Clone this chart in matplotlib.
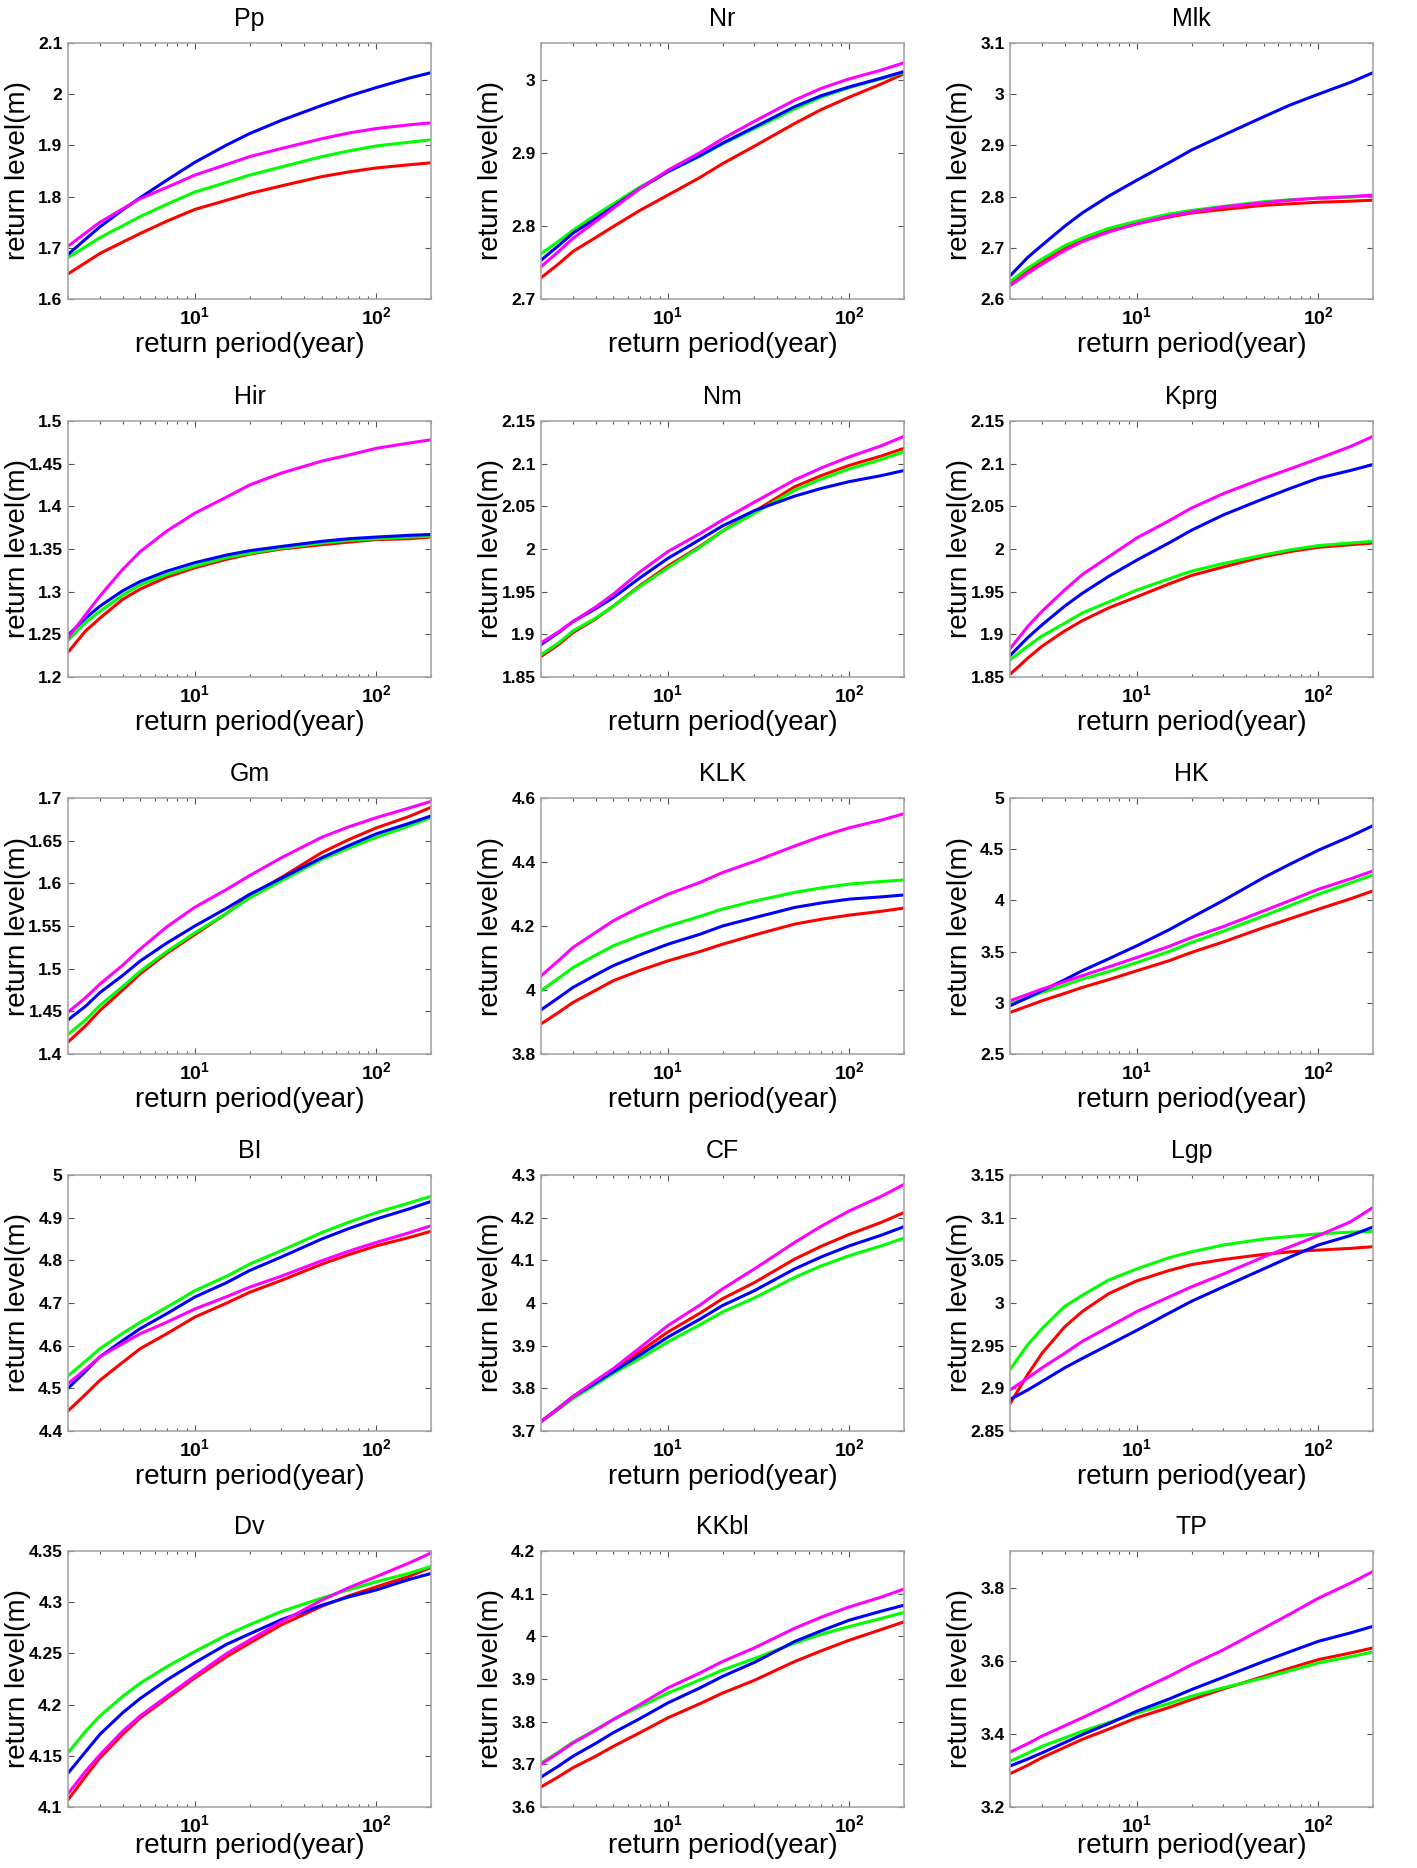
import numpy as np
import matplotlib
matplotlib.use("Agg")
import matplotlib.pyplot as plt
from matplotlib.ticker import FixedLocator, FixedFormatter, LogLocator, NullFormatter

plt.rcParams['font.family'] = ['Liberation Sans', 'DejaVu Sans']
plt.rcParams['mathtext.fontset'] = 'custom'
plt.rcParams['mathtext.rm'] = 'Liberation Sans'
plt.rcParams['mathtext.bf'] = 'Liberation Sans:bold'

# return periods (years)
T = [2, 2.5, 3, 4, 5, 7, 10, 15, 20, 30, 50, 70, 100, 150, 200]

stations = ["Pp", "Nr", "Mlk", "Hir", "Nm", "Kprg", "Gm", "KLK", "HK",
            "BI", "CF", "Lgp", "Dv", "KKbl", "TP"]

# return levels (m) per station
red = {
    "Pp":   [1.649, 1.671, 1.689, 1.711, 1.728, 1.752, 1.775, 1.793, 1.806, 1.821, 1.839, 1.848, 1.856, 1.862, 1.866],
    "Nr":   [2.729, 2.748, 2.765, 2.784, 2.799, 2.821, 2.842, 2.866, 2.885, 2.909, 2.940, 2.959, 2.976, 2.994, 3.008],
    "Mlk":  [2.629, 2.655, 2.673, 2.699, 2.714, 2.733, 2.747, 2.760, 2.768, 2.775, 2.783, 2.786, 2.789, 2.791, 2.793],
    "Hir":  [1.229, 1.254, 1.269, 1.291, 1.303, 1.317, 1.328, 1.338, 1.344, 1.350, 1.355, 1.358, 1.361, 1.362, 1.364],
    "Nm":   [1.874, 1.888, 1.902, 1.918, 1.933, 1.957, 1.980, 2.003, 2.021, 2.044, 2.073, 2.086, 2.098, 2.109, 2.118],
    "Kprg": [1.853, 1.872, 1.886, 1.904, 1.916, 1.931, 1.944, 1.959, 1.969, 1.979, 1.991, 1.997, 2.002, 2.005, 2.007],
    "Gm":   [1.414, 1.433, 1.451, 1.475, 1.494, 1.518, 1.540, 1.565, 1.585, 1.607, 1.636, 1.651, 1.665, 1.678, 1.689],
    "KLK":  [3.894, 3.930, 3.961, 3.999, 4.029, 4.061, 4.091, 4.120, 4.143, 4.172, 4.206, 4.221, 4.234, 4.246, 4.256],
    "HK":   [2.906, 2.968, 3.020, 3.092, 3.150, 3.226, 3.313, 3.410, 3.492, 3.595, 3.735, 3.822, 3.914, 4.015, 4.093],
    "BI":   [4.447, 4.486, 4.519, 4.561, 4.593, 4.628, 4.667, 4.700, 4.725, 4.753, 4.791, 4.813, 4.834, 4.853, 4.868],
    "CF":   [3.722, 3.754, 3.781, 3.816, 3.842, 3.886, 3.932, 3.976, 4.010, 4.048, 4.103, 4.133, 4.161, 4.189, 4.212],
    "Lgp":  [2.882, 2.916, 2.941, 2.972, 2.990, 3.011, 3.026, 3.038, 3.045, 3.051, 3.057, 3.060, 3.062, 3.064, 3.066],
    "Dv":   [4.107, 4.130, 4.148, 4.171, 4.187, 4.206, 4.226, 4.247, 4.260, 4.278, 4.296, 4.306, 4.315, 4.325, 4.334],
    "KKbl": [3.647, 3.671, 3.692, 3.719, 3.742, 3.774, 3.809, 3.842, 3.867, 3.897, 3.941, 3.966, 3.991, 4.016, 4.034],
    "TP":   [3.291, 3.314, 3.335, 3.363, 3.385, 3.413, 3.444, 3.472, 3.494, 3.523, 3.557, 3.580, 3.603, 3.621, 3.635],
}
green = {
    "Pp":   [1.681, 1.702, 1.720, 1.743, 1.761, 1.785, 1.809, 1.828, 1.842, 1.858, 1.878, 1.889, 1.899, 1.906, 1.911],
    "Nr":   [2.762, 2.779, 2.794, 2.815, 2.830, 2.853, 2.874, 2.895, 2.912, 2.933, 2.960, 2.976, 2.989, 3.001, 3.010],
    "Mlk":  [2.634, 2.660, 2.678, 2.704, 2.719, 2.738, 2.752, 2.766, 2.773, 2.781, 2.790, 2.794, 2.797, 2.799, 2.801],
    "Hir":  [1.243, 1.264, 1.277, 1.296, 1.308, 1.320, 1.330, 1.340, 1.345, 1.351, 1.357, 1.360, 1.362, 1.364, 1.365],
    "Nm":   [1.876, 1.890, 1.904, 1.919, 1.933, 1.956, 1.978, 2.002, 2.021, 2.042, 2.069, 2.082, 2.094, 2.105, 2.114],
    "Kprg": [1.870, 1.886, 1.898, 1.913, 1.925, 1.938, 1.952, 1.965, 1.974, 1.983, 1.993, 1.999, 2.004, 2.007, 2.009],
    "Gm":   [1.423, 1.440, 1.457, 1.479, 1.497, 1.520, 1.542, 1.565, 1.583, 1.603, 1.628, 1.641, 1.654, 1.667, 1.677],
    "KLK":  [3.998, 4.037, 4.070, 4.109, 4.138, 4.170, 4.200, 4.230, 4.253, 4.278, 4.305, 4.319, 4.331, 4.339, 4.344],
    "HK":   [2.988, 3.049, 3.101, 3.172, 3.231, 3.305, 3.394, 3.500, 3.589, 3.700, 3.849, 3.950, 4.060, 4.170, 4.249],
    "BI":   [4.529, 4.564, 4.593, 4.629, 4.655, 4.690, 4.729, 4.763, 4.791, 4.823, 4.865, 4.889, 4.912, 4.934, 4.950],
    "CF":   [3.722, 3.751, 3.776, 3.809, 3.835, 3.870, 3.909, 3.949, 3.979, 4.012, 4.060, 4.087, 4.111, 4.134, 4.152],
    "Lgp":  [2.922, 2.951, 2.970, 2.996, 3.009, 3.027, 3.040, 3.053, 3.060, 3.068, 3.075, 3.078, 3.081, 3.083, 3.084],
    "Dv":   [4.153, 4.174, 4.189, 4.208, 4.221, 4.237, 4.252, 4.268, 4.278, 4.291, 4.304, 4.312, 4.320, 4.328, 4.335],
    "KKbl": [3.703, 3.729, 3.752, 3.781, 3.805, 3.835, 3.867, 3.898, 3.921, 3.948, 3.984, 4.005, 4.023, 4.042, 4.056],
    "TP":   [3.325, 3.347, 3.366, 3.389, 3.407, 3.431, 3.457, 3.483, 3.503, 3.526, 3.553, 3.573, 3.594, 3.611, 3.624],
}
blue = {
    "Pp":   [1.687, 1.717, 1.741, 1.774, 1.798, 1.832, 1.867, 1.901, 1.923, 1.949, 1.978, 1.996, 2.013, 2.031, 2.042],
    "Nr":   [2.753, 2.773, 2.790, 2.810, 2.826, 2.851, 2.874, 2.896, 2.913, 2.935, 2.963, 2.978, 2.990, 3.002, 3.011],
    "Mlk":  [2.645, 2.681, 2.705, 2.742, 2.768, 2.801, 2.832, 2.866, 2.891, 2.920, 2.956, 2.979, 3.000, 3.023, 3.042],
    "Hir":  [1.249, 1.269, 1.283, 1.301, 1.312, 1.324, 1.334, 1.343, 1.348, 1.353, 1.359, 1.362, 1.364, 1.366, 1.367],
    "Nm":   [1.888, 1.902, 1.915, 1.930, 1.943, 1.966, 1.989, 2.011, 2.027, 2.045, 2.062, 2.071, 2.079, 2.086, 2.092],
    "Kprg": [1.875, 1.896, 1.911, 1.933, 1.948, 1.968, 1.987, 2.007, 2.022, 2.040, 2.059, 2.071, 2.083, 2.092, 2.099],
    "Gm":   [1.440, 1.456, 1.472, 1.492, 1.509, 1.530, 1.550, 1.571, 1.587, 1.606, 1.630, 1.644, 1.658, 1.670, 1.679],
    "KLK":  [3.938, 3.976, 4.008, 4.047, 4.076, 4.110, 4.143, 4.174, 4.200, 4.226, 4.258, 4.272, 4.284, 4.291, 4.297],
    "HK":   [2.971, 3.050, 3.118, 3.225, 3.313, 3.430, 3.557, 3.712, 3.833, 4.000, 4.223, 4.355, 4.490, 4.625, 4.730],
    "BI":   [4.500, 4.540, 4.574, 4.612, 4.640, 4.675, 4.714, 4.748, 4.776, 4.808, 4.850, 4.874, 4.897, 4.920, 4.938],
    "CF":   [3.722, 3.753, 3.780, 3.813, 3.839, 3.878, 3.920, 3.962, 3.994, 4.029, 4.080, 4.108, 4.134, 4.159, 4.179],
    "Lgp":  [2.887, 2.898, 2.908, 2.924, 2.935, 2.951, 2.968, 2.988, 3.002, 3.019, 3.040, 3.054, 3.068, 3.079, 3.089],
    "Dv":   [4.133, 4.154, 4.171, 4.192, 4.206, 4.224, 4.241, 4.259, 4.269, 4.283, 4.297, 4.305, 4.312, 4.322, 4.328],
    "KKbl": [3.670, 3.696, 3.719, 3.749, 3.774, 3.807, 3.844, 3.879, 3.906, 3.939, 3.988, 4.013, 4.038, 4.059, 4.073],
    "TP":   [3.312, 3.331, 3.348, 3.376, 3.398, 3.428, 3.462, 3.495, 3.521, 3.555, 3.598, 3.625, 3.653, 3.676, 3.694],
}
magenta = {
    "Pp":   [1.703, 1.729, 1.750, 1.776, 1.796, 1.818, 1.842, 1.863, 1.878, 1.894, 1.913, 1.924, 1.933, 1.940, 1.944],
    "Nr":   [2.744, 2.765, 2.783, 2.806, 2.824, 2.851, 2.876, 2.900, 2.919, 2.943, 2.972, 2.988, 3.001, 3.013, 3.023],
    "Mlk":  [2.626, 2.650, 2.668, 2.695, 2.712, 2.731, 2.747, 2.762, 2.770, 2.780, 2.788, 2.793, 2.797, 2.800, 2.803],
    "Hir":  [1.246, 1.273, 1.295, 1.326, 1.347, 1.371, 1.392, 1.411, 1.425, 1.439, 1.453, 1.460, 1.468, 1.474, 1.478],
    "Nm":   [1.890, 1.903, 1.915, 1.932, 1.947, 1.973, 1.997, 2.018, 2.034, 2.055, 2.081, 2.095, 2.108, 2.121, 2.132],
    "Kprg": [1.883, 1.909, 1.927, 1.952, 1.970, 1.991, 2.013, 2.033, 2.048, 2.065, 2.083, 2.094, 2.106, 2.120, 2.132],
    "Gm":   [1.449, 1.466, 1.482, 1.504, 1.523, 1.549, 1.572, 1.593, 1.609, 1.630, 1.654, 1.666, 1.677, 1.688, 1.696],
    "KLK":  [4.044, 4.092, 4.133, 4.180, 4.216, 4.259, 4.299, 4.336, 4.367, 4.402, 4.450, 4.480, 4.507, 4.531, 4.551],
    "HK":   [3.020, 3.082, 3.134, 3.206, 3.264, 3.350, 3.443, 3.550, 3.638, 3.745, 3.898, 4.000, 4.109, 4.210, 4.288],
    "BI":   [4.511, 4.545, 4.574, 4.605, 4.628, 4.655, 4.686, 4.715, 4.737, 4.763, 4.799, 4.821, 4.842, 4.864, 4.881],
    "CF":   [3.722, 3.753, 3.780, 3.818, 3.846, 3.895, 3.947, 3.995, 4.033, 4.080, 4.142, 4.180, 4.216, 4.250, 4.278],
    "Lgp":  [2.898, 2.912, 2.924, 2.941, 2.955, 2.972, 2.990, 3.007, 3.019, 3.034, 3.054, 3.066, 3.079, 3.095, 3.112],
    "Dv":   [4.113, 4.135, 4.151, 4.174, 4.189, 4.208, 4.228, 4.250, 4.263, 4.281, 4.302, 4.314, 4.325, 4.338, 4.348],
    "KKbl": [3.700, 3.727, 3.750, 3.780, 3.805, 3.840, 3.879, 3.914, 3.941, 3.973, 4.019, 4.045, 4.069, 4.092, 4.111],
    "TP":   [3.350, 3.373, 3.394, 3.422, 3.444, 3.478, 3.516, 3.557, 3.589, 3.630, 3.689, 3.728, 3.771, 3.812, 3.844],
}

# y-axis limits and tick labels per station
ylims = {
    "Pp": (1.6, 2.1), "Nr": (2.7, 3.05), "Mlk": (2.6, 3.1),
    "Hir": (1.2, 1.5), "Nm": (1.85, 2.15), "Kprg": (1.85, 2.15),
    "Gm": (1.4, 1.7), "KLK": (3.8, 4.6), "HK": (2.5, 5.0),
    "BI": (4.4, 5.0), "CF": (3.7, 4.3), "Lgp": (2.85, 3.15),
    "Dv": (4.1, 4.35), "KKbl": (3.6, 4.2), "TP": (3.2, 3.9),
}
yticklabels = {
    "Pp": ["1.6", "1.7", "1.8", "1.9", "2", "2.1"],
    "Nr": ["2.7", "2.8", "2.9", "3"],
    "Mlk": ["2.6", "2.7", "2.8", "2.9", "3", "3.1"],
    "Hir": ["1.2", "1.25", "1.3", "1.35", "1.4", "1.45", "1.5"],
    "Nm": ["1.85", "1.9", "1.95", "2", "2.05", "2.1", "2.15"],
    "Kprg": ["1.85", "1.9", "1.95", "2", "2.05", "2.1", "2.15"],
    "Gm": ["1.4", "1.45", "1.5", "1.55", "1.6", "1.65", "1.7"],
    "KLK": ["3.8", "4", "4.2", "4.4", "4.6"],
    "HK": ["2.5", "3", "3.5", "4", "4.5", "5"],
    "BI": ["4.4", "4.5", "4.6", "4.7", "4.8", "4.9", "5"],
    "CF": ["3.7", "3.8", "3.9", "4", "4.1", "4.2", "4.3"],
    "Lgp": ["2.85", "2.9", "2.95", "3", "3.05", "3.1", "3.15"],
    "Dv": ["4.1", "4.15", "4.2", "4.25", "4.3", "4.35"],
    "KKbl": ["3.6", "3.7", "3.8", "3.9", "4", "4.1", "4.2"],
    "TP": ["3.2", "3.4", "3.6", "3.8"],
}
xticks = [10, 100]
xticklabels = [r"$\mathbf{10^{1}}$", r"$\mathbf{10^{2}}$"]

W, H = 1417, 1868
fig = plt.figure(figsize=(W / 100, H / 100), dpi=100)

col_left = [68, 541, 1010]
row_top = [43, 421, 798, 1175, 1551]
aw, ah = 363, 256

frame_col = "#a8a8a8"
tick_col = "#555555"

for i, st in enumerate(stations):
    r, c = divmod(i, 3)
    l = col_left[c]
    t = row_top[r]
    ax = fig.add_axes([l / W, 1 - (t + ah) / H, aw / W, ah / H])
    ax.set_xscale("log")
    for ser, col in ((red, "#ff0000"), (green, "#00ff00"),
                     (blue, "#0000ff"), (magenta, "#ff00ff")):
        ax.plot(T, ser[st], color=col, lw=2.2, solid_joinstyle="round")
    ax.set_xlim(2, 200)
    ax.set_ylim(*ylims[st])
    yt = [float(s) for s in yticklabels[st]]
    ax.yaxis.set_major_locator(FixedLocator(yt))
    ax.yaxis.set_major_formatter(FixedFormatter(yticklabels[st]))
    ax.xaxis.set_major_locator(FixedLocator(xticks))
    ax.xaxis.set_major_formatter(FixedFormatter(xticklabels))
    ax.xaxis.set_minor_locator(LogLocator(base=10, subs=np.arange(2, 10), numticks=20))
    ax.xaxis.set_minor_formatter(NullFormatter())
    ax.tick_params(which="both", direction="in", top=True, right=True,
                   color=tick_col, width=0.8)
    ax.tick_params(which="major", length=4, pad=4)
    ax.tick_params(axis="y", which="major", labelsize=12.5)
    ax.tick_params(axis="x", which="major", labelsize=14, pad=5)
    ax.tick_params(which="minor", length=2.5)
    for lab in ax.get_yticklabels():
        lab.set_fontweight("bold")
    for sp in ax.spines.values():
        sp.set_color(frame_col)
        sp.set_linewidth(1.2)
    ax.set_title(st, fontsize=18, pad=12)
    ax.set_xlabel("return period(year)", fontsize=20)
    ax.set_ylabel("return level(m)", fontsize=20)
    ax.xaxis.set_label_coords(0.5, -0.10 if r == 4 else -0.129)
    ax.yaxis.set_label_coords(-0.102, 0.5)

fig.savefig("out.png", dpi=100)
